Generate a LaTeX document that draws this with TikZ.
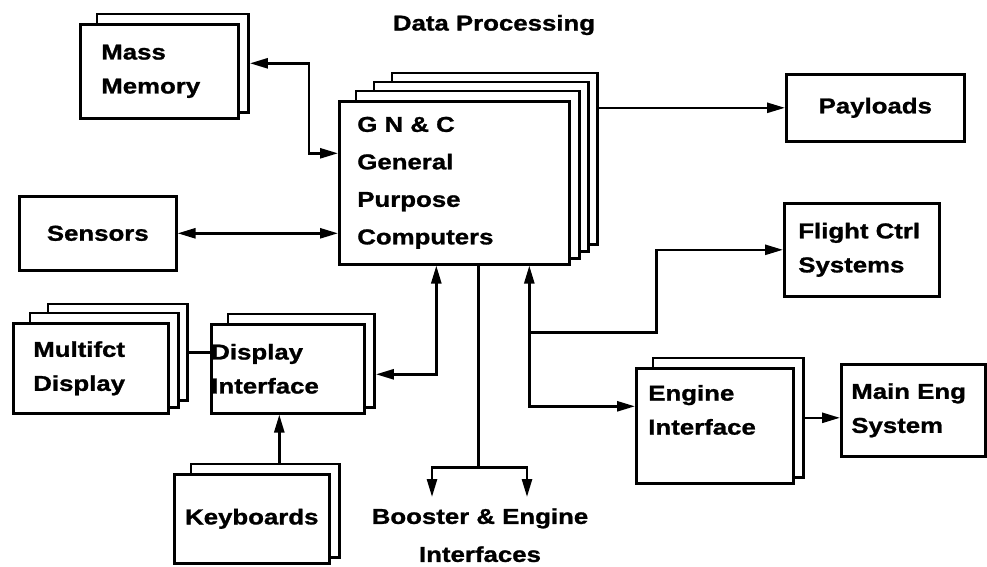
\documentclass[tikz,border=0pt]{standalone}
\usepackage{fontspec}
\setmainfont{Liberation Sans}[FakeStretch=1.2,BoldFeatures={FakeBold=1.2}]
\usepackage{tikz}
\usetikzlibrary{arrows.meta,fit}
\pgfdeclarelayer{bg}
\pgfsetlayers{bg,main}

\begin{document}
\begin{tikzpicture}[x=1pt,y=-1pt,line width=2.6pt,>={Triangle[length=18pt,width=10pt]},
  card/.style={draw,fill=white,anchor=north west,inner xsep=0pt,inner ysep=0pt,align=left,
    font=\fontsize{21.5}{34}\selectfont\bfseries},
  back/.style={draw,fill=white,line width=2.6pt,inner sep=0pt},
  txt/.style={font=\fontsize{21.5}{38}\selectfont\bfseries,align=center}]
  \useasboundingbox (0,0) rectangle (987,566);
  % front cards
  \node[card,minimum width=158,minimum height=94,text width=116] (mass) at (79,23) {Mass\\Memory};
  \node[card,minimum width=230,minimum height=163,text width=194,
    font=\fontsize{21.5}{37.5}\selectfont\bfseries] (gnc) at (338,100) {G N \& C\\General\\Purpose\\Computers};
  \node[card,minimum width=157,minimum height=74,align=center] (sens) at (18,195) {Sensors};
  \node[card,minimum width=178,minimum height=67,align=center] (pay) at (785,73) {Payloads};
  \node[card,minimum width=155,minimum height=93,text width=127] (flight) at (783,202) {Flight Ctrl\\Systems};
  \node[card,minimum width=155,minimum height=90,text width=115] (multi) at (12,322) {Multifct\\Display};
  \node[card,minimum width=153,minimum height=89,text width=153] (disp) at (210,323) {Display\\Interface};
  \node[card,minimum width=155,minimum height=89,align=center] (keyb) at (173,473) {Keyboards};
  \node[card,minimum width=157,minimum height=115,text width=133,text depth=66pt] (eng) at (635,367) {Engine\\Interface};
  \node[card,minimum width=144,minimum height=92,text width=124] (main) at (840,363) {Main Eng\\System};
  \node[txt] (title) at (494,25) {Data Processing};
  \node[txt,anchor=north,inner ysep=10pt] (boost) at (480,497) {Booster \& Engine\\Interfaces};
  % cards stacked behind
  \begin{pgfonlayer}{bg}
    \foreach \n/\m in {mass/1,gnc/3,multi/2,disp/1,keyb/1,eng/1} {
      \foreach \k in {\m,...,1} {
        \node[back,fit={([shift={(18*\k,-9*\k)}]\n.north west) ([shift={(9*\k,-7*\k)}]\n.south east)}] (\n\k) {};
      }
    }
  \end{pgfonlayer}
  \begin{scope}[line width=2.6pt]
  % links to the computers
  \draw[<->] (mass1.east) -- ++(59,0) |- ([yshift=29.5pt]gnc.west);
  \draw[<->] (sens) -- (sens -| gnc.west);
  \draw[->] (gnc3.east |- pay) -- (pay);
  \draw[<->] ([xshift=75pt]gnc.south) |- ([yshift=19.5pt]eng.west);
  \draw[->] ([xshift=75pt,yshift=-67pt]gnc.south) -- ++(127,0) |- (flight.west);
  \draw[<->] ([xshift=-18pt]gnc.south) |- ([yshift=-13.5pt]disp1.east);
  \draw ([xshift=24pt]gnc.south) -- ++(0,202) coordinate (split);
  \draw[<->] ([xshift=-48pt]boost.north) |- (split) -| ([xshift=47pt]boost.north);
  % display and engine side
  \draw (multi2.east) -- (multi2.east -| disp.west);
  \coordinate (kb) at ([xshift=14pt]keyb1.north);
  \draw[->] (kb) -- (kb |- disp.south);
  \draw[->] (eng1.east) -- (eng1.east -| main.west);
  \end{scope}
\end{tikzpicture}
\end{document}
